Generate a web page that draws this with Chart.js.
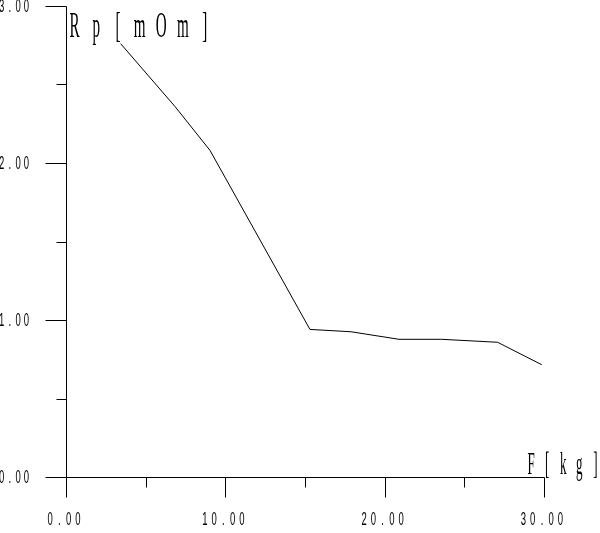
<!DOCTYPE html>
<html>
<head>
<meta charset="utf-8">
<script src="https://cdn.jsdelivr.net/npm/chart.js@4.4.0/dist/chart.umd.min.js"></script>
<style>body{margin:0;background:#fff}</style>
</head>
<body>
<canvas id="grafico" width="600" height="533"></canvas>
<script>
// Datos (F en kg, Rp en mOm)
const fuerza = [3.43, 6.84, 9.04, 15.31, 17.89, 20.90, 23.58, 27.09, 29.86];
const resistencia = [2.76, 2.36, 2.08, 0.94, 0.925, 0.877, 0.877, 0.858, 0.715];
const ticksX = [0, 10, 20, 30];
const menoresX = [5, 15, 25];
const ticksY = [0, 1, 2, 3];
const menoresY = [0.5, 1.5, 2.5];
const tituloX = 'F[kg]';
const tituloY = 'Rp[mOm]';

// Dibuja un texto carácter por carácter, comprimido y espaciado (estilo plotter)
function textoEspaciado(ctx, texto, xPrimero, y, fuente, paso, escala, base) {
    ctx.save();
    ctx.font = fuente;
    ctx.fillStyle = '#000';
    ctx.textAlign = 'center';
    ctx.textBaseline = base;
    for (let i = 0; i < texto.length; i++) {
        ctx.save();
        ctx.translate(xPrimero + i * paso, y);
        ctx.scale(escala, 1);
        ctx.fillText(texto[i], 0, 0);
        ctx.restore();
    }
    ctx.restore();
}

// Plugin que dibuja los ejes, las marcas y las etiquetas usando las escalas del gráfico
const ejesPlotter = {
    id: 'ejesPlotter',
    afterDraw(chart) {
        const ctx = chart.ctx;
        const sx = chart.scales.x;
        const sy = chart.scales.y;
        const x0 = Math.round(sx.getPixelForValue(0)) + 0.5;
        const y0 = Math.round(sy.getPixelForValue(0)) + 0.5;

        ctx.save();
        ctx.strokeStyle = '#000';
        ctx.lineWidth = 1;
        ctx.beginPath();
        // ejes
        ctx.moveTo(x0, y0);
        ctx.lineTo(Math.round(sx.getPixelForValue(30)) + 0.5, y0);
        ctx.moveTo(x0, y0);
        ctx.lineTo(x0, Math.round(sy.getPixelForValue(3)) + 0.5);
        // marcas del eje X
        ticksX.forEach(v => {
            const px = Math.round(sx.getPixelForValue(v)) + 0.5;
            ctx.moveTo(px, y0); ctx.lineTo(px, y0 + 20);
        });
        menoresX.forEach(v => {
            const px = Math.round(sx.getPixelForValue(v)) + 0.5;
            ctx.moveTo(px, y0); ctx.lineTo(px, y0 + 10);
        });
        // marcas del eje Y
        ticksY.forEach(v => {
            const py = Math.round(sy.getPixelForValue(v)) + 0.5;
            ctx.moveTo(x0 - 21, py); ctx.lineTo(x0, py);
        });
        menoresY.forEach(v => {
            const py = Math.round(sy.getPixelForValue(v)) + 0.5;
            ctx.moveTo(x0 - 10, py); ctx.lineTo(x0, py);
        });
        ctx.stroke();
        ctx.restore();

        const fuenteNum = '19px "Liberation Sans"';
        // etiquetas X
        ticksX.forEach(v => {
            const t = v.toFixed(2);
            const paso = 9.25;
            const c = sx.getPixelForValue(v) - 2;
            textoEspaciado(ctx, t, c - (t.length - 1) * paso / 2, y0 + 42, fuenteNum, paso, 0.5, 'middle');
        });
        // etiquetas Y
        ticksY.forEach(v => {
            const t = v.toFixed(2);
            const paso = 8.3;
            const derecha = x0 - 40;
            textoEspaciado(ctx, t, derecha - (t.length - 1) * paso, sy.getPixelForValue(v) + 1, fuenteNum, paso, 0.5, 'middle');
        });
        // títulos de los ejes
        const fuenteTitulo = '36px "Liberation Serif"';
        textoEspaciado(ctx, tituloY, x0 + 8, 37, fuenteTitulo, 21.7, 0.42, 'alphabetic');
        textoEspaciado(ctx, tituloX, chart.chartArea.right - 13, y0 - 4, '31px "Liberation Serif"', 16.1, 0.42, 'alphabetic');
    }
};

const ctx = document.getElementById('grafico').getContext('2d');
const chart = new Chart(ctx, {
    type: 'line',
    data: {
        datasets: [{
            data: fuerza.map((f, i) => ({ x: f, y: resistencia[i] })),
            borderColor: '#000',
            borderWidth: 1,
            pointRadius: 0,
            fill: false,
            tension: 0
        }]
    },
    options: {
        responsive: false,
        animation: false,
        layout: { padding: { left: 66, right: 56, top: 6, bottom: 56 } },
        plugins: { legend: { display: false }, tooltip: { enabled: false } },
        scales: {
            x: { type: 'linear', min: 0, max: 30, display: false },
            y: { type: 'linear', min: 0, max: 3, display: false }
        }
    },
    plugins: [ejesPlotter]
});
</script>
</body>
</html>
